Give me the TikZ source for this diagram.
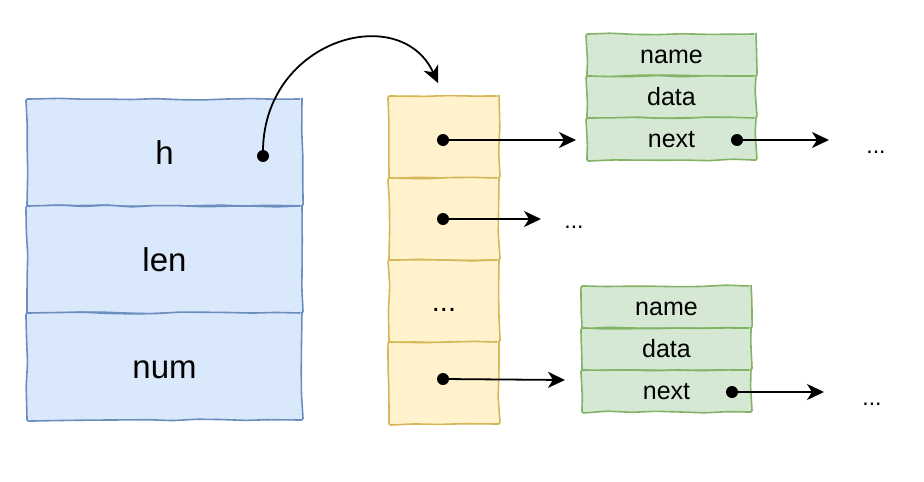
\documentclass[tikz,border=0pt]{standalone}
\usepackage{fontspec}
\setmainfont{Liberation Sans}
\usetikzlibrary{arrows.meta,decorations.pathmorphing}
\definecolor{bluefill}{HTML}{DAE8FC}
\definecolor{bluedraw}{HTML}{6C8EBF}
\definecolor{yellowfill}{HTML}{FFF2CC}
\definecolor{yellowdraw}{HTML}{D6B656}
\definecolor{greenfill}{HTML}{D5E8D4}
\definecolor{greendraw}{HTML}{82B366}
\pgfmathsetseed{7}
\begin{document}
\begin{tikzpicture}[x=1pt,y=-1pt,
  sketch/.style={decorate,decoration={random steps,segment length=24pt,amplitude=0.9pt},rounded corners=2pt,line width=1.6pt,inner sep=0pt},
  bluecell/.style={sketch,draw=bluedraw,fill=bluefill,minimum width=275pt,minimum height=107pt,font=\fontsize{33}{38}\selectfont,text height=28pt,text depth=5pt},
  yellowcell/.style={sketch,draw=yellowdraw,fill=yellowfill,minimum width=110pt,minimum height=82pt,font=\fontsize{29}{34}\selectfont,text height=24.6pt,text depth=4.4pt},
  greencell/.style={sketch,draw=greendraw,fill=greenfill,minimum width=169pt,minimum height=42pt,font=\fontsize{25}{30}\selectfont,text height=21.25pt,text depth=3.75pt},
  dot/.style={circle,fill=black,inner sep=0pt,minimum size=12pt},
  ptr/.style={line width=1.8pt,-{Stealth[length=17pt,width=16pt,inset=5pt]}},
  more/.style={inner sep=0pt,font=\fontsize{23}{27}\selectfont}
]
\useasboundingbox (0,0) rectangle (924,482);

% blue struct
\node[bluecell] (bh) at (164.5,152.5) {h};
\node[bluecell] (bl) at (164.5,259.5) {len};
\node[bluecell] (bn) at (164.5,366.5) {num};

% yellow array
\node[yellowcell] (y1) at (444,137) {};
\node[yellowcell] (y2) at (444,219) {};
\node[yellowcell] (y3) at (444,301) {...};
\node[yellowcell] (y4) at (444,383) {};

% green node 1
\node[greencell] (g1a) at (671.5,55) {name};
\node[greencell] (g1b) at (671.5,97) {data};
\node[greencell] (g1c) at (671.5,139) {next};

% green node 2
\node[greencell] (g2a) at (666.5,307) {name};
\node[greencell] (g2b) at (666.5,349) {data};
\node[greencell] (g2c) at (666.5,391) {next};

% dots
\node[dot] (dh) at (263,156) {};
\node[dot] (d1) at (443,140) {};
\node[dot] (d2) at (443,219) {};
\node[dot] (d4) at (443,379) {};
\node[dot] (dg1) at (737,140) {};
\node[dot] (dg2) at (732,392) {};

% arrow ends
\coordinate (t0) at (438,83);
\coordinate (t1) at (576,140);
\coordinate (t2) at (541,219);
\coordinate (t4) at (565,380);
\coordinate (tg1) at (829,140);
\coordinate (tg2) at (824,392);

% ellipsis labels
\node[more] (m2) at (574,227) {...};
\node[more] (mg1) at (876,152) {...};
\node[more] (mg2) at (872,404) {...};

% connectors
\draw[ptr] (dh.center) .. controls (260,40) and (400,0) .. (t0);
\draw[ptr] (d1.center) -- (t1);
\draw[ptr] (d2.center) -- (t2);
\draw[ptr] (d4.center) -- (t4);
\draw[ptr] (dg1.center) -- (tg1);
\draw[ptr] (dg2.center) -- (tg2);
\end{tikzpicture}
\end{document}
